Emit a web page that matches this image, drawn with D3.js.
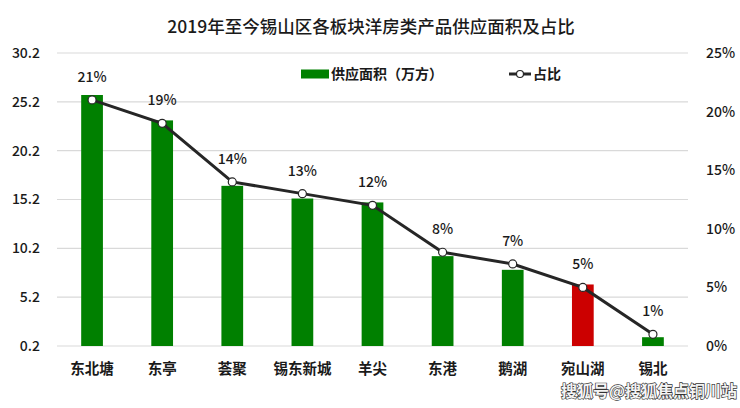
<!DOCTYPE html>
<html>
<head>
<meta charset="utf-8">
<script src="https://cdn.jsdelivr.net/npm/d3@7"></script>
<style>
html,body{margin:0;padding:0;background:#fff;}
svg{display:block;font-family:"Noto Sans CJK SC","Noto Sans",sans-serif;}
</style>
</head>
<body>
<svg id="chart" width="740" height="408"></svg>
<script>
const categories = ["东北塘","东亭","荟聚","锡东新城","羊尖","东港","鹅湖","宛山湖","锡北"];
const supplyArea = [25.9, 23.3, 16.6, 15.3, 14.9, 9.4, 8.0, 6.5, 1.1];
const sharePct = [21, 19, 14, 13, 12, 8, 7, 5, 1];
const barColors = ["#008000","#008000","#008000","#008000","#008000","#008000","#008000","#cc0000","#008000"];
const leftTicks = [0.2, 5.2, 10.2, 15.2, 20.2, 25.2, 30.2];
const rightTicks = [0, 5, 10, 15, 20, 25];
const title = "2019年至今锡山区各板块洋房类产品供应面积及占比";
const legendBar = "供应面积（万方）";
const legendLine = "占比";
const watermark = "搜狐号@搜狐焦点铜川站";

const svg = d3.select("#chart");
const FF = "\"Noto Sans CJK SC\",sans-serif";
const m = {left:57, right:52, top:53, bottom:62};
const W = 740, H = 408;
const x = d3.scaleBand().domain(categories).range([m.left, W - m.right]).paddingInner(0.69).paddingOuter(0.345);
const y = d3.scaleLinear().domain([0.2, 30.2]).range([H - m.bottom, m.top]);
const y2 = d3.scaleLinear().domain([0, 25]).range([H - m.bottom, m.top]);

// title
svg.append("text").attr("x", 371).attr("y", 33).attr("text-anchor","middle")
  .attr("font-size", 17.5).attr("font-weight", 500).attr("fill","#1a1a1a").text(title);

// gridlines
svg.append("g").selectAll("line").data(leftTicks).join("line")
  .attr("x1", m.left).attr("x2", W - m.right)
  .attr("y1", d => y(d)).attr("y2", d => y(d))
  .attr("stroke", "#d9d9d9").attr("stroke-width", 1.2);

// left axis
const la = svg.append("g").attr("transform", `translate(${m.left - 14},0)`)
  .call(d3.axisLeft(y).tickValues(leftTicks).tickFormat(d3.format(".1f")).tickSize(0));
la.select(".domain").remove();
la.selectAll("text").attr("font-size", 14).attr("font-weight", 500).attr("fill", "#1a1a1a").attr("font-family", FF);

// right axis
const ra = svg.append("g").attr("transform", `translate(${W - m.right + 15},0)`)
  .call(d3.axisRight(y2).tickValues(rightTicks).tickFormat(d => d + "%").tickSize(0));
ra.select(".domain").remove();
ra.selectAll("text").attr("font-size", 14).attr("font-weight", 500).attr("fill", "#1a1a1a").attr("font-family", FF);

// bars
svg.append("g").selectAll("rect").data(categories).join("rect")
  .attr("x", d => x(d)).attr("width", x.bandwidth())
  .attr("y", (d,i) => y(supplyArea[i]))
  .attr("height", (d,i) => y(0.2) - y(supplyArea[i]))
  .attr("fill", (d,i) => barColors[i]);

// category labels
const xa = svg.append("g").attr("transform", `translate(0,${H - m.bottom + 9})`)
  .call(d3.axisBottom(x).tickSize(0));
xa.select(".domain").remove();
xa.selectAll("text").attr("font-size", 14.5).attr("font-weight", 700).attr("fill", "#1a1a1a")
  .attr("font-family", FF).attr("dy", "1.1em");

// line
const cx = d => x(d) + x.bandwidth()/2;
const line = d3.line().x((d,i) => cx(categories[i])).y(d => y2(d));
svg.append("path").datum(sharePct).attr("d", line)
  .attr("fill","none").attr("stroke","#262626").attr("stroke-width", 3);
svg.append("g").selectAll("circle").data(sharePct).join("circle")
  .attr("cx", (d,i) => cx(categories[i])).attr("cy", d => y2(d)).attr("r", 4)
  .attr("fill","#fff").attr("stroke","#262626").attr("stroke-width", 1.2);
svg.append("g").selectAll("text").data(sharePct).join("text")
  .attr("x", (d,i) => cx(categories[i])).attr("y", d => y2(d) - 18)
  .attr("text-anchor","middle").attr("font-size", 14).attr("font-weight", 500).attr("fill","#1a1a1a")
  .text(d => d + "%");

// legend
const lg = svg.append("g");
lg.append("rect").attr("x", 301).attr("y", 69.5).attr("width", 28).attr("height", 9).attr("fill", "#008000");
lg.append("text").attr("x", 331).attr("y", 79).attr("font-size", 14).attr("font-weight", 700).attr("fill","#1a1a1a").text(legendBar);
lg.append("line").attr("x1", 509).attr("x2", 531).attr("y1", 74).attr("y2", 74).attr("stroke","#262626").attr("stroke-width", 3);
lg.append("circle").attr("cx", 520).attr("cy", 74).attr("r", 3.5).attr("fill","#fff").attr("stroke","#262626").attr("stroke-width",1.2);
lg.append("text").attr("x", 533).attr("y", 79).attr("font-size", 14).attr("font-weight", 700).attr("fill","#1a1a1a").text(legendLine);

// watermark
svg.append("text").attr("x", 561).attr("y", 397).attr("font-size", 16)
  .attr("fill", "#f4f4f4").attr("stroke", "#333").attr("stroke-width", 1.3)
  .attr("paint-order","stroke").attr("font-weight", 700).text(watermark);
</script>
</body>
</html>
